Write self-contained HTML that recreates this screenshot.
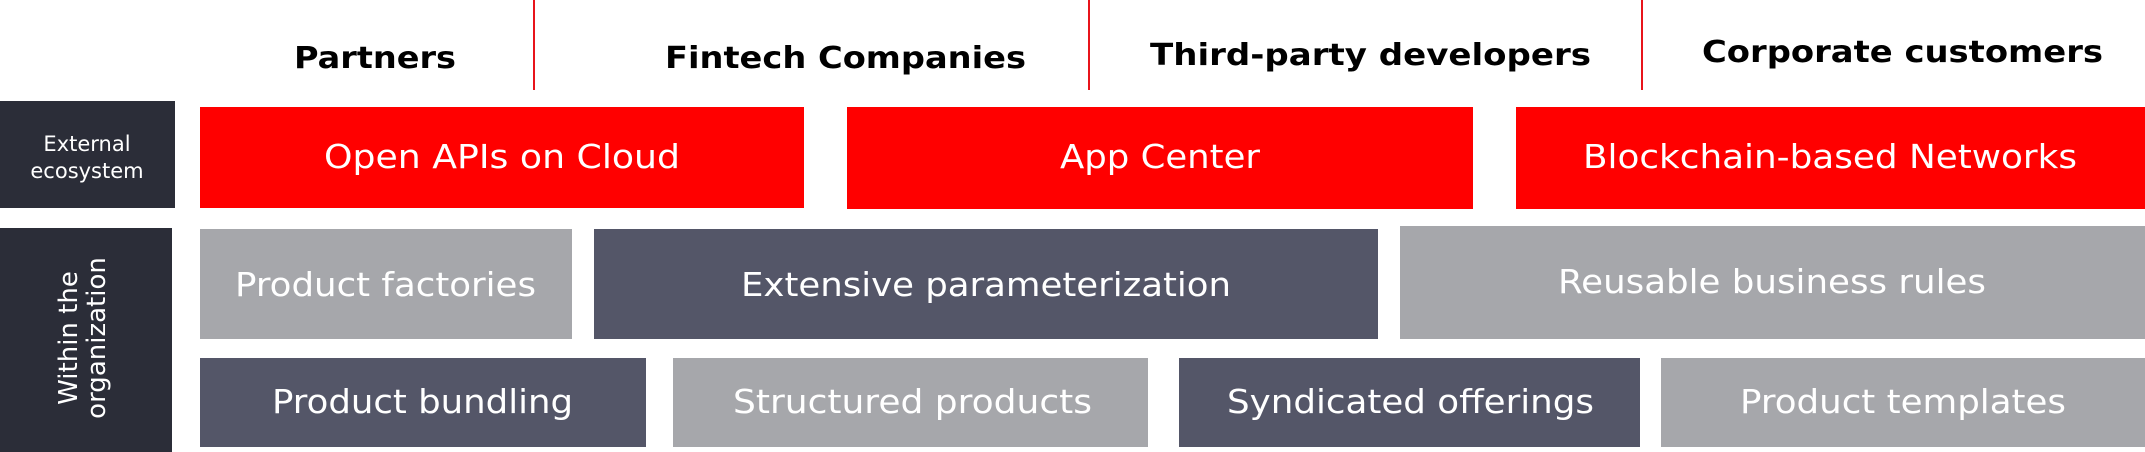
<!DOCTYPE html>
<html><head><meta charset="utf-8"><style>
html,body{margin:0;padding:0;background:#fff;}
svg{display:block;}
text{font-family:"DejaVu Sans","Liberation Sans",sans-serif;}
</style></head><body>
<svg width="2145" height="452" viewBox="0 0 2145 452" xmlns="http://www.w3.org/2000/svg">
<rect width="2145" height="452" fill="#fff"/>
<g stroke="#e8141b" stroke-width="2">
<line x1="534" y1="0" x2="534" y2="90"/>
<line x1="1089" y1="0" x2="1089" y2="90"/>
<line x1="1642" y1="0" x2="1642" y2="90"/>
</g>
<g font-weight="bold" font-size="30" fill="#000">
<text x="294" y="68" textLength="162" lengthAdjust="spacingAndGlyphs">Partners</text>
<text x="665" y="68" textLength="361" lengthAdjust="spacingAndGlyphs">Fintech Companies</text>
<text x="1150" y="65" textLength="441" lengthAdjust="spacingAndGlyphs">Third-party developers</text>
<text x="1702" y="62" textLength="401" lengthAdjust="spacingAndGlyphs">Corporate customers</text>
</g>
<rect x="0" y="101" width="175" height="107" fill="#2b2d38"/>
<rect x="0" y="228" width="172" height="224" fill="#2b2d38"/>
<g fill="#fff" text-anchor="middle">
<text x="87" y="151" font-size="21">External</text>
<text x="87" y="178" font-size="21">ecosystem</text>
<g transform="translate(84,338) rotate(-90)" font-size="26">
<text x="0" y="-7">Within the</text>
<text x="0" y="21">organization</text>
</g>
</g>
<g fill="#ff0000">
<rect x="200" y="107" width="604" height="101"/>
<rect x="847" y="107" width="626" height="102"/>
<rect x="1516" y="107" width="629" height="102"/>
</g>
<rect x="200" y="229" width="372" height="110" fill="#a6a7ab"/>
<rect x="594" y="229" width="784" height="110" fill="#545668"/>
<rect x="1400" y="226" width="745" height="113" fill="#a6a7ab"/>
<rect x="200" y="358" width="446" height="89" fill="#545668"/>
<rect x="673" y="358" width="475" height="89" fill="#a6a7ab"/>
<rect x="1179" y="358" width="461" height="89" fill="#545668"/>
<rect x="1661" y="358" width="484" height="89" fill="#a6a7ab"/>
<g fill="#fff" font-size="33">
<text x="324" y="168" textLength="356" lengthAdjust="spacingAndGlyphs">Open APIs on Cloud</text>
<text x="1060" y="168" textLength="200" lengthAdjust="spacingAndGlyphs">App Center</text>
<text x="1583" y="168" textLength="494" lengthAdjust="spacingAndGlyphs">Blockchain-based Networks</text>
<text x="235" y="296" textLength="301" lengthAdjust="spacingAndGlyphs">Product factories</text>
<text x="741" y="296" textLength="490" lengthAdjust="spacingAndGlyphs">Extensive parameterization</text>
<text x="1558" y="293" textLength="428" lengthAdjust="spacingAndGlyphs">Reusable business rules</text>
<text x="272" y="413" textLength="301" lengthAdjust="spacingAndGlyphs">Product bundling</text>
<text x="733" y="413" textLength="359" lengthAdjust="spacingAndGlyphs">Structured products</text>
<text x="1227" y="413" textLength="367" lengthAdjust="spacingAndGlyphs">Syndicated offerings</text>
<text x="1740" y="413" textLength="326" lengthAdjust="spacingAndGlyphs">Product templates</text>
</g>
</svg>
</body></html>
